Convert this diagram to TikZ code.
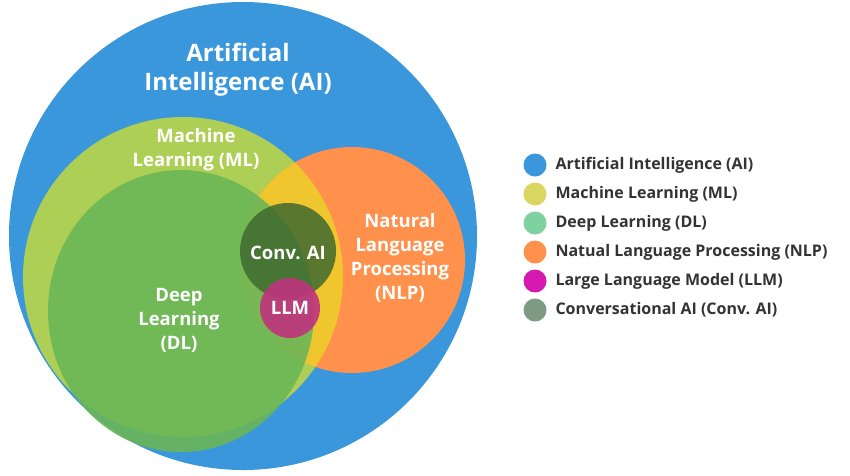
\documentclass[tikz,border=0pt]{standalone}
\usepackage{fontspec}
\setmainfont{Open Sans}
\begin{document}
\begin{tikzpicture}[x=1pt,y=-1pt,
  big/.style={font=\fontsize{24}{29}\selectfont\bfseries, text=white, align=center},
  mid/.style={font=\fontsize{18.5}{24}\selectfont\bfseries, text=white, align=center},
  leg/.style={circle, minimum size=23pt, inner sep=0pt},
  legt/.style={anchor=west, font=\fontsize{16}{19}\selectfont\bfseries, text=black!80}]
\definecolor{cAI}{HTML}{3A97DB}
\definecolor{cML}{HTML}{AECF55}
\definecolor{cDL}{HTML}{6BB658}
\definecolor{cNLP}{HTML}{FF914D}
\definecolor{cOV}{HTML}{F0C62E}
\definecolor{cCA}{HTML}{3F6A2E}
\definecolor{cLLM}{HTML}{C0337F}
\definecolor{lML}{HTML}{D9D75F}
\definecolor{lDL}{HTML}{80D1A0}
\definecolor{lLLM}{HTML}{D61AB0}
\definecolor{lCA}{HTML}{7E9A82}
\useasboundingbox (0,0) rectangle (850,475);
\fill[white] (0,0) rectangle (850,475);
\fill[cAI] (243,236) circle (234);
\fill[cML] (183,277) circle (160);
\fill[cNLP] (352,260) circle (113);
\begin{scope}
  \clip (183,277) circle (160);
  \fill[cOV] (352,260) circle (113);
\end{scope}
\fill[cDL, opacity=0.9] (181,311) ellipse (133 and 141);
\fill[cCA, opacity=0.85] (288,251) circle (48);
\fill[cLLM, opacity=0.9] (290,308) circle (30);
\node[big] (tai) at (238,70) {Artificial\\Intelligence (AI)};
\node[mid] (tml) at (196,150) {Machine\\Learning (ML)};
\node[mid] (tdl) at (179,320) {Deep\\Learning\\(DL)};
\node[mid] (tnlp) at (400,258) {Natural\\Language\\Processing\\(NLP)};
\node[mid] (tca) at (288,253) {Conv. AI};
\node[mid] (tllm) at (290,308) {LLM};
\foreach \c/\t [count=\i] in {cAI/Artificial Intelligence (AI), lML/Machine Learning (ML), lDL/Deep Learning (DL), cNLP/Natual Language Processing (NLP), lLLM/Large Language Model (LLM), lCA/Conversational AI (Conv. AI)}{
  \node[leg, fill=\c] (l\i) at (535,136+29*\i) {};
  \node[legt] (lt\i) at (552,136+29*\i) {\t};
}
\end{tikzpicture}
\end{document}
